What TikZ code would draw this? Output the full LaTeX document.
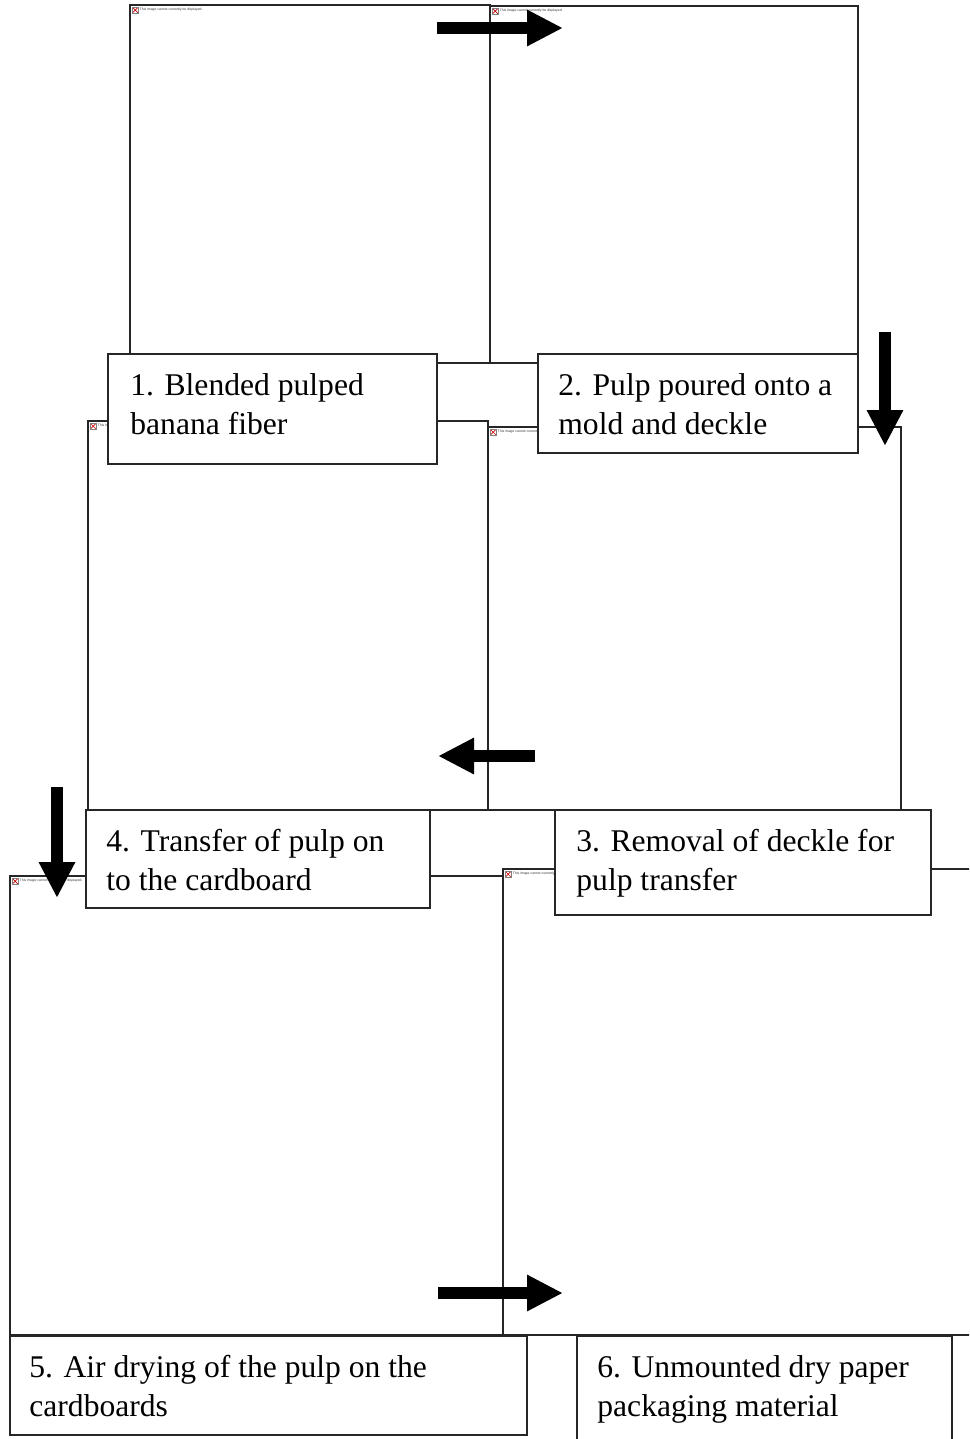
\documentclass[tikz,border=0pt]{standalone}
\usepackage{fontspec}
\setmainfont{Liberation Serif}
\newfontfamily\placeholderfont{Liberation Sans}
\usetikzlibrary{arrows.meta,fit}

\begin{document}
\begin{tikzpicture}[x=0.5pt,y=-0.5pt,
  imgframe/.style={draw=black!85, line width=0.55pt, inner sep=0pt},
  stepbox/.style={draw=black!85, fill=white, line width=0.65pt, inner sep=0pt},
  % anchored at the baseline of the last line
  steptext/.style={anchor=base west, inner sep=0pt, align=left,
    font=\fontsize{15.8}{19.5}\selectfont},
  missingtext/.style={anchor=north west, inner sep=0pt, text=black!80,
    font=\placeholderfont\fontsize{1.7}{2}\selectfont},
  missingicon/.style={anchor=north west, draw=black!50, fill=white, line width=0.15pt,
    minimum size=2.6pt, inner sep=0pt,
    path picture={\draw[red!80!black, line width=0.35pt]
      (path picture bounding box.north west) -- (path picture bounding box.south east)
      (path picture bounding box.north east) -- (path picture bounding box.south west);}},
  blockarrow/.style={line width=6pt, -{Triangle[length=18pt,width=17pt]}}
]
\useasboundingbox (0,0) rectangle (969,1439);
\clip (0,0) rectangle (969,1439);

% picture frames
\node[imgframe, fit={(130,5) (490,363)}] (f1) {};
\node[imgframe, fit={(490,6) (858,363)}] (f2) {};
\node[imgframe, fit={(88,421) (488,810)}] (f3) {};
\node[imgframe, fit={(488,427) (901,810)}] (f4) {};
\node[imgframe, fit={(10,876) (503,1335)}] (f5) {};
\node[imgframe, fit={(503,869) (980,1335)}] (f6) {};

% "missing picture" markers in each frame
\foreach \f in {f1,f2,f3,f4,f5,f6}{
  \node[missingicon] (\f icon) at ([shift={(3,3)}]\f.north west) {};
  \node[missingtext] (\f msg) at ([shift={(10,3.5)}]\f.north west)
    {This image cannot currently be displayed.};
}

% step captions
\node[stepbox, fit={(108,354) (437,464)}] (b1) {};
\node[steptext] (t1) at (130,434) {1. Blended pulped\\banana fiber};

\node[stepbox, fit={(538,354) (858,453)}] (b2) {};
\node[steptext] (t2) at (558,434) {2. Pulp poured onto a\\mold and deckle};

\node[stepbox, fit={(555,810) (931,915)}] (b3) {};
\node[steptext] (t3) at (576,890) {3. Removal of deckle for\\pulp transfer};

\node[stepbox, fit={(86,810) (430,908)}] (b4) {};
\node[steptext] (t4) at (106,890) {4. Transfer of pulp on\\to the cardboard};

\node[stepbox, fit={(10,1336) (527,1435)}] (b5) {};
\node[steptext] (t5) at (29,1416) {5. Air drying of the pulp on the\\cardboards};

\node[stepbox, fit={(577,1336) (952,1450)}] (b6) {};
\node[steptext] (t6) at (597,1416) {6. Unmounted dry paper\\packaging material};

% flow arrows
\coordinate (a1s) at (437,28);   \coordinate (a1e) at (563,28);
\coordinate (a2s) at (885,332);  \coordinate (a2e) at (885,446);
\coordinate (a3s) at (535,756);  \coordinate (a3e) at (438,756);
\coordinate (a4s) at (57,787);   \coordinate (a4e) at (57,898);
\coordinate (a5s) at (438,1293); \coordinate (a5e) at (563,1293);
\foreach \a in {a1,a2,a3,a4,a5}{
  \draw[blockarrow] (\a s) -- (\a e);
}
\end{tikzpicture}
\end{document}
